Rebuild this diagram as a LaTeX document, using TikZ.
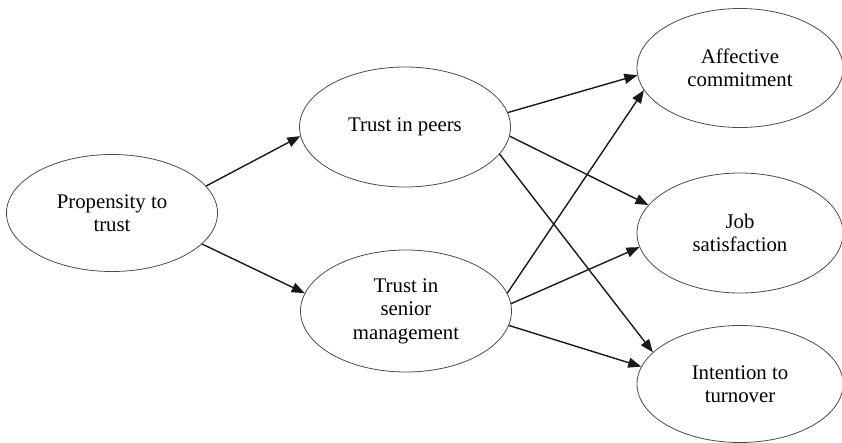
\documentclass[tikz,border=0pt]{standalone}
\usepackage{fontspec}
\setmainfont{Liberation Serif}
\usetikzlibrary{arrows.meta, shapes.geometric}
\tikzset{
    construct/.style={ellipse, draw=black!70, line width=0.8pt, fill=white, inner sep=0pt, minimum width=211pt, minimum height=120pt, align=center, font=\fontsize{20.8}{23.5}\selectfont},
    outcome/.style={construct, minimum width=206pt},
    path/.style={-{Triangle[length=13pt, width=10pt]}, line width=1.4pt, draw=black!90}
}
\begin{document}
\begin{tikzpicture}[x=1pt, y=-1pt]
                \useasboundingbox (0,0) rectangle (842,442);
                % antecedent and mediators
                \node[construct, minimum height=117pt] (prop) at (112,213) {Propensity to\\trust};
                \node[construct] (peers) at (405,127) {Trust in peers};
                \node[construct, minimum height=122pt] (senior) at (406,311) {Trust in\\senior\\management};
                % outcomes
                \node[outcome, minimum height=119pt] (affect) at (740,68) {Affective\\commitment};
                \node[outcome] (job) at (740,233) {Job\\satisfaction};
                \node[outcome, minimum height=117pt] (intent) at (740,384) {Intention to\\turnover};
                \draw[path] (prop.16) -- (peers.185);
                \draw[path] (prop.-19) -- (senior.170);
                \draw[path] (peers.8) -- (affect.184);
                \draw[path] (peers.-5) -- (job.163);
                \draw[path] (peers.-16) -- (intent.160);
                \draw[path] (senior.10) -- (affect.193);
                \draw[path] (senior.4) -- (job.188);
                \draw[path] (senior.-8) -- (intent.170);
            \end{tikzpicture}
\end{document}
